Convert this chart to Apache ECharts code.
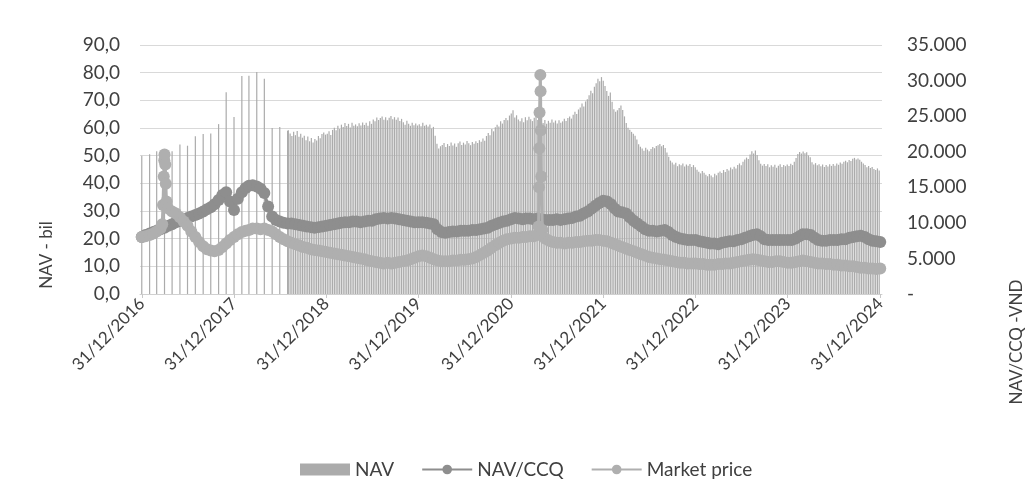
<!DOCTYPE html>
<html>
<head>
<meta charset="utf-8">
<script src="https://cdn.jsdelivr.net/npm/echarts@6/dist/echarts.min.js"></script>
<style>
  html, body { margin: 0; padding: 0; background: #ffffff; }
  #chart { width: 1029px; height: 493px; }
</style>
</head>
<body>
<div id="chart"></div>
<script>
// ---- NAV (billion VND): month-end values Dec 2016 .. Jul 2018 ----
const navMonthly = [50.0, 50.5, 51.6, 51.0, 51.6, 54.0, 53.6, 57.0, 57.8, 58.0, 61.4, 72.9,
                    64.0, 78.8, 78.9, 80.2, 77.8, 60.0, 60.4, 59.0];

// ---- NAV (billion VND): weekly (Fridays) from Aug 2018 ----
const nav2018 = [59.2, 58.0, 57.1, 58.6, 57.4, 58.9, 56.8, 57.9, 56.5, 57.2, 55.6, 56.9, 55.2, 56.4,
                 54.8, 56.0, 55.5, 57.1, 56.3, 57.8, 58.4, 57.6];
const nav2019 = [57.9, 58.8, 57.5, 59.3, 60.1, 59.2, 60.8, 59.6, 61.2, 60.4, 61.8, 60.7, 61.5, 60.2,
                 61.9, 60.8, 61.3, 60.6, 61.7, 60.9, 62.0, 61.1, 61.9, 60.8, 62.4, 61.5, 63.1, 62.4,
                 63.8, 62.9, 63.6, 64.2, 63.0, 63.9, 62.8, 63.7, 64.3, 63.2, 63.9, 63.0, 63.8, 62.5,
                 63.3, 62.1, 61.2, 62.6, 61.5, 60.8, 61.9, 61.0, 61.6, 60.9];
const nav2020 = [61.4, 60.6, 61.9, 60.8, 61.2, 60.5, 61.3, 59.8, 60.4, 57.2, 54.3, 52.6, 53.4, 53.9,
                 54.6, 53.1, 54.2, 53.5, 54.8, 53.7, 54.4, 53.2, 54.5, 55.1, 53.9, 54.7, 54.0, 55.3,
                 54.5, 53.8, 54.9, 54.3, 55.2, 54.6, 55.6, 55.0, 56.2, 55.4, 57.1, 58.2, 57.4, 59.6,
                 58.8, 60.3, 61.2, 60.5, 62.4, 61.6, 62.9, 63.6, 62.8, 64.5];
const nav2021 = [65.2, 66.4, 63.8, 64.6, 63.1, 62.4, 63.5, 62.1, 63.9, 62.8, 64.1, 63.2, 62.5, 63.7,
                 64.4, 62.9, 63.6, 62.2, 61.8, 62.9, 61.5, 62.6, 61.9, 63.1, 62.0, 62.7, 61.6, 62.8,
                 61.9, 62.4, 63.3, 62.5, 63.6, 64.2, 63.4, 64.8, 65.9, 65.1, 66.7, 67.4, 68.9, 67.8,
                 69.6, 70.4, 71.8, 73.5, 72.6, 74.9, 76.2, 77.8, 76.9, 78.4, 77.1];
const nav2022 = [75.2, 73.4, 71.6, 72.8, 69.5, 66.8, 65.9, 66.4, 67.2, 68.1, 66.5, 64.2, 61.8, 60.1,
                 59.4, 58.6, 57.9, 57.2, 55.8, 54.1, 53.2, 52.6, 51.8, 52.9, 52.2, 51.6, 52.4, 53.1,
                 52.7, 53.5, 53.8, 54.2, 53.4, 53.9, 52.8, 51.1, 49.6, 48.2, 47.5, 46.8, 47.4, 46.2,
                 46.9, 46.5, 47.2, 46.1, 46.8, 46.4, 47.0, 45.9, 46.6, 45.8];
const nav2023 = [44.9, 44.2, 43.6, 44.5, 43.8, 43.1, 42.6, 43.4, 42.8, 42.2, 43.5, 42.9, 43.8, 44.3,
                 43.7, 44.8, 44.1, 45.2, 44.6, 45.7, 45.1, 46.0, 45.4, 46.6, 47.2, 46.5, 47.8, 48.6,
                 49.3, 48.8, 50.4, 51.6, 50.8, 51.9, 50.2, 48.3, 47.1, 46.4, 47.0, 46.3, 46.9, 45.8,
                 46.5, 46.0, 46.7, 45.6, 46.4, 46.9, 45.9, 46.6, 46.2, 46.8];
const nav2024 = [46.3, 47.1, 46.6, 47.8, 49.2, 50.6, 51.3, 50.8, 51.5, 50.9, 51.2, 50.1, 49.4, 47.6,
                 46.8, 47.3, 46.5, 46.9, 46.2, 46.8, 45.9, 46.6, 46.1, 46.9, 46.3, 47.0, 46.4, 47.2,
                 46.7, 47.5, 47.1, 47.8, 48.2, 47.6, 48.4, 48.1, 48.9, 49.2, 48.6, 49.0, 48.5, 47.8,
                 47.2, 46.6, 45.8, 46.3, 45.5, 45.9, 45.2, 44.8, 45.4, 44.6];
const navWeeklyBlocks = [
  ['2018-08-03', nav2018], ['2019-01-04', nav2019], ['2020-01-03', nav2020],
  ['2021-01-01', nav2021], ['2022-01-07', nav2022], ['2023-01-06', nav2023], ['2024-01-05', nav2024]
];

// ---- NAV/CCQ and Market price (VND): 15th and month-end of each month ----
const lineStartDate = '2016-12-31';
const ccqStart = 8000;
const priceStart = 8000;

const ccq2017 = [8300,8500,8700,8900,9100,9300,9600,9800,10100,10300,10500,10700,10900,11100,11300,11600,11900,12200,12600,13200,13900,14300,13000,11800];
const ccq2018 = [13400,14300,14900,15200,15300,15100,14800,14200,12300,10900,10400,10200,10000,9900,9900,9800,9700,9600,9500,9400,9300,9400,9500,9600];
const ccq2019 = [9700,9800,9900,10000,10100,10100,10200,10200,10100,10200,10300,10300,10500,10600,10700,10600,10700,10600,10500,10400,10300,10200,10100,10100];
const ccq2020 = [10100,10000,9900,9800,9100,8700,8600,8700,8800,8800,8900,8900,8900,9000,9000,9100,9200,9300,9600,9800,10000,10200,10300,10500];
const ccq2021 = [10700,10600,10500,10600,10600,10500,10600,10500,10400,10400,10400,10500,10400,10500,10600,10700,10900,11000,11300,11600,12000,12400,12800,13100];
const ccq2022 = [13000,12600,12000,11600,11500,11300,10800,10300,9900,9500,9100,8900,8900,8800,8900,9000,8700,8300,8000,7800,7700,7600,7600,7600];
const ccq2023 = [7400,7300,7200,7100,7100,7000,7200,7300,7400,7400,7600,7700,7900,8100,8300,8400,8100,7700,7600,7600,7600,7600,7600,7600];
const ccq2024 = [7600,7800,8100,8400,8400,8300,7900,7600,7500,7500,7600,7600,7600,7700,7700,7900,8000,8100,8200,8000,7700,7500,7400,7300];

const price2017 = [8100,8300,8500,8800,9200,19600,12000,11600,11300,10800,10200,9600,8800,8000,7300,6700,6300,6100,6000,6200,6600,7100,7600,8000];
const price2018 = [8400,8700,8900,9000,9200,9200,9100,9200,9000,8800,8400,8000,7700,7400,7200,7000,6800,6600,6500,6300,6200,6100,6000,5900];
const price2019 = [5800,5700,5600,5500,5400,5300,5200,5100,5000,4900,4700,4600,4500,4400,4300,4400,4300,4400,4500,4600,4700,4900,5100,5300];
const price2020 = [5400,5300,5100,4900,4700,4600,4600,4600,4700,4700,4800,4800,4900,5000,5200,5500,5800,6100,6500,6900,7200,7500,7700,7800];
const price2021 = [7900,7900,8000,8000,8100,8100,8300,16500,7800,7500,7300,7200,7200,7100,7200,7200,7300,7300,7400,7500,7500,7600,7600,7500];
const price2022 = [7400,7200,7000,6800,6600,6400,6200,6000,5800,5600,5400,5200,5100,5000,4900,4800,4700,4600,4500,4400,4400,4300,4300,4300];
const price2023 = [4200,4200,4100,4100,4100,4200,4200,4300,4300,4400,4500,4600,4700,4800,4900,4800,4700,4600,4500,4500,4600,4600,4500,4400];
const price2024 = [4400,4500,4600,4700,4600,4500,4400,4300,4300,4200,4200,4100,4100,4000,4000,3900,3900,3800,3700,3700,3600,3600,3500,3600];

// Daily quotes around the two market-price jumps
const spike2017Dates  = ['2017-03-22','2017-03-25','2017-03-28','2017-03-30','2017-04-03','2017-04-05','2017-04-08'];
const spike2017Values = [9800, 12500, 16500, 18800, 18200, 15500, 13000];
const spike2021Dates  = ['2021-04-19','2021-04-21','2021-04-22','2021-04-23','2021-04-26','2021-04-27','2021-04-28','2021-05-04'];
const spike2021Values = [9500, 15000, 20500, 25500, 30800, 28500, 23000, 9000];

// Axis tick labels
const yearEndTicks = ['2016-12-31','2017-12-31','2018-12-31','2019-12-31','2020-12-31',
                      '2021-12-31','2022-12-31','2023-12-31','2024-12-31'];

// ---------------- helpers ----------------
const DAY = 86400000;
function ts(s) { const p = s.split('-').map(Number); return Date.UTC(p[0], p[1] - 1, p[2]); }
function pad(n) { return (n < 10 ? '0' : '') + n; }
function fmtDate(v) {
  const d = new Date(v);
  return pad(d.getUTCDate()) + '/' + pad(d.getUTCMonth() + 1) + '/' + d.getUTCFullYear();
}
function semiMonthly(year, values) {
  const out = [];
  for (let m = 0; m < 12; m++) {
    out.push([Date.UTC(year, m, 15), values[2 * m]]);
    out.push([Date.UTC(year, m + 1, 0), values[2 * m + 1]]);
  }
  return out;
}
function withDaily(points, dates, values) {
  const extra = dates.map((d, i) => [ts(d), values[i]]);
  return points.concat(extra).sort((a, b) => a[0] - b[0]);
}

// NAV bars
const navData = [];
navMonthly.forEach((v, i) => {
  const k = 11 + i;                       // month index counted from Jan 2016
  const y = 2016 + Math.floor(k / 12);
  const m = k % 12;
  navData.push([Date.UTC(y, m + 1, 0), v]);
});
navWeeklyBlocks.forEach(([start, vals]) => {
  const t0 = ts(start);
  vals.forEach((v, i) => navData.push([t0 + i * 7 * DAY, v]));
});

// Lines
let ccqData = [[ts(lineStartDate), ccqStart]];
[[2017, ccq2017], [2018, ccq2018], [2019, ccq2019], [2020, ccq2020],
 [2021, ccq2021], [2022, ccq2022], [2023, ccq2023], [2024, ccq2024]]
  .forEach(([y, v]) => { ccqData = ccqData.concat(semiMonthly(y, v)); });

let priceData = [[ts(lineStartDate), priceStart]];
[[2017, price2017], [2018, price2018], [2019, price2019], [2020, price2020],
 [2021, price2021], [2022, price2022], [2023, price2023], [2024, price2024]]
  .forEach(([y, v]) => { priceData = priceData.concat(semiMonthly(y, v)); });
priceData = withDaily(priceData, spike2017Dates, spike2017Values);
priceData = withDaily(priceData, spike2021Dates, spike2021Values);

const tickValues = yearEndTicks.map(ts);
const FONT = 'Lato, "Open Sans", "Noto Sans", sans-serif';
const TEXT = '#404040';

const chart = echarts.init(document.getElementById('chart'), null, { renderer: 'canvas' });
chart.setOption({
  animation: false,
  backgroundColor: '#ffffff',
  textStyle: { fontFamily: FONT },
  grid: { left: 140, right: 147, top: 45, bottom: 199, containLabel: false, outerBoundsMode: 'none' },
  legend: {
    left: 295, top: 455,
    itemWidth: 50, itemHeight: 12, itemGap: 27,
    textStyle: { fontFamily: FONT, fontSize: 19, color: TEXT },
    data: [{ name: 'NAV', icon: 'rect' }, { name: 'NAV/CCQ' }, { name: 'Market price' }]
  },
  xAxis: {
    // dates as UTC milliseconds on a linear scale
    type: 'value',
    min: ts('2016-12-24'),
    max: ts('2025-01-07'),
    splitLine: { show: false },
    axisLine: { show: true, lineStyle: { color: '#d0d0d0', width: 1 } },
    axisTick: { show: true, customValues: tickValues, length: 4, lineStyle: { color: '#c8c8c8' } },
    axisLabel: {
      customValues: tickValues,
      rotate: 45,
      margin: 7,
      fontFamily: FONT, fontSize: 17, color: TEXT,
      formatter: (v) => fmtDate(v)
    }
  },
  yAxis: [
    {
      type: 'value', min: 0, max: 90, interval: 10,
      axisLine: { show: false }, axisTick: { show: false },
      splitLine: { show: true, lineStyle: { color: '#d9d9d9', width: 1 } },
      axisLabel: {
        margin: 20, fontFamily: FONT, fontSize: 19, color: TEXT,
        formatter: (v) => v.toFixed(1).replace('.', ',')
      }
    },
    {
      type: 'value', min: 0, max: 35000, interval: 5000, position: 'right',
      axisLine: { show: false }, axisTick: { show: false },
      splitLine: { show: false },
      axisLabel: {
        margin: 25, fontFamily: FONT, fontSize: 19, color: TEXT, align: 'left',
        formatter: (v) => v === 0 ? '-' : String(v).replace(/\B(?=(\d{3})+(?!\d))/g, '.')
      }
    }
  ],
  graphic: [
    {
      type: 'text', rotation: Math.PI / 2,
      style: { text: 'NAV - bil', font: '17px ' + FONT, fill: TEXT, align: 'center', verticalAlign: 'middle' },
      x: 47, y: 255
    },
    {
      type: 'text', rotation: Math.PI / 2,
      style: { text: 'NAV/CCQ -VND', font: '17px ' + FONT, fill: TEXT, align: 'center', verticalAlign: 'middle' },
      x: 1017, y: 342
    }
  ],
  series: [
    {
      name: 'NAV', type: 'bar', yAxisIndex: 0,
      data: navData, barWidth: 1.2, barGap: '0%',
      itemStyle: { color: '#ababab' }, z: 2
    },
    {
      name: 'NAV/CCQ', type: 'line', yAxisIndex: 1,
      data: ccqData, showAllSymbol: true, symbol: 'circle', symbolSize: 12,
      lineStyle: { color: '#8e8e8e', width: 3 },
      itemStyle: { color: '#8e8e8e' }, z: 3
    },
    {
      name: 'Market price', type: 'line', yAxisIndex: 1,
      data: priceData, showAllSymbol: true, symbol: 'circle', symbolSize: 12,
      lineStyle: { color: '#afafaf', width: 3 },
      itemStyle: { color: '#afafaf' }, z: 4
    }
  ]
});
</script>
</body>
</html>
